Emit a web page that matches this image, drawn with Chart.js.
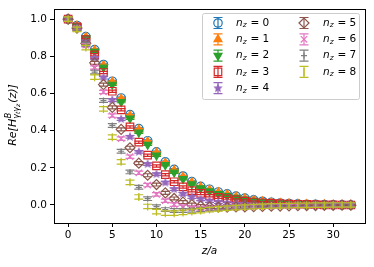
<!DOCTYPE html>
<html>
<head>
<meta charset="utf-8">
<script src="https://cdn.jsdelivr.net/npm/chart.js@4.4.1/dist/chart.umd.min.js"></script>
<style>
  html, body { margin: 0; padding: 0; background: #fff; }
  #wrap { width: 374px; height: 267px; }
</style>
</head>
<body>
<div id="wrap"><canvas id="chart" width="374" height="267"></canvas></div>
<script>
// ---- data ----
const zValues = [0, 1, 2, 3, 4, 5, 6, 7, 8, 9, 10, 11, 12, 13, 14, 15, 16, 17, 18, 19, 20, 21, 22, 23, 24, 25, 26, 27, 28, 29, 30, 31, 32];

const nz0 = [1.0, 0.966, 0.906, 0.836, 0.756, 0.666, 0.576, 0.486, 0.411, 0.346, 0.286, 0.232, 0.192, 0.156, 0.126, 0.100, 0.085, 0.070, 0.060, 0.048, 0.037, 0.028, 0.020, 0.015, 0.011, 0.008, 0.006, 0.004, 0.003, 0.002, 0.001, 0.001, 0.0];
const nz1 = [1.0, 0.964, 0.904, 0.833, 0.752, 0.662, 0.571, 0.481, 0.406, 0.341, 0.281, 0.227, 0.187, 0.152, 0.122, 0.097, 0.082, 0.068, 0.057, 0.045, 0.035, 0.026, 0.019, 0.014, 0.010, 0.008, 0.006, 0.004, 0.003, 0.002, 0.001, 0.001, 0.0];
const nz2 = [1.0, 0.962, 0.898, 0.825, 0.740, 0.648, 0.555, 0.466, 0.390, 0.325, 0.267, 0.215, 0.175, 0.140, 0.112, 0.090, 0.074, 0.060, 0.049, 0.039, 0.030, 0.023, 0.017, 0.013, 0.010, 0.007, 0.005, 0.004, 0.003, 0.002, 0.001, 0.001, 0.0];
const nz3 = [1.0, 0.958, 0.890, 0.808, 0.713, 0.612, 0.512, 0.420, 0.338, 0.268, 0.210, 0.163, 0.125, 0.097, 0.077, 0.062, 0.050, 0.041, 0.034, 0.027, 0.021, 0.016, 0.012, 0.009, 0.007, 0.005, 0.004, 0.003, 0.002, 0.001, 0.001, 0.0, 0.0];
const nz4 = [1.0, 0.955, 0.880, 0.790, 0.685, 0.565, 0.462, 0.367, 0.286, 0.220, 0.166, 0.120, 0.085, 0.060, 0.043, 0.030, 0.021, 0.015, 0.010, 0.006, 0.004, 0.002, 0.001, 0.0, 0.0, 0.0, 0.0, 0.0, 0.0, 0.0, 0.0, 0.0, 0.0];
const nz5 = [1.0, 0.952, 0.870, 0.765, 0.648, 0.525, 0.407, 0.308, 0.225, 0.160, 0.110, 0.065, 0.035, 0.015, 0.002, -0.006, -0.010, -0.012, -0.012, -0.011, -0.010, -0.009, -0.008, -0.007, -0.006, -0.005, -0.004, -0.003, -0.003, -0.002, -0.002, -0.001, -0.001];
const nz6 = [1.0, 0.950, 0.860, 0.740, 0.608, 0.481, 0.357, 0.260, 0.173, 0.107, 0.057, 0.023, 0.002, -0.010, -0.016, -0.018, -0.018, -0.017, -0.015, -0.013, -0.011, -0.009, -0.007, -0.006, -0.005, -0.004, -0.003, -0.002, -0.002, -0.001, -0.001, 0.0, 0.0];
const nz7 = [1.0, 0.948, 0.865, 0.715, 0.562, 0.428, 0.289, 0.178, 0.095, 0.034, -0.009, -0.025, -0.030, -0.030, -0.028, -0.025, -0.021, -0.018, -0.015, -0.012, -0.010, -0.008, -0.006, -0.005, -0.004, -0.003, -0.002, -0.002, -0.001, -0.001, 0.0, 0.0, 0.0];
const nz8 = [1.0, 0.945, 0.847, 0.688, 0.517, 0.365, 0.232, 0.122, 0.043, -0.008, -0.036, -0.044, -0.044, -0.040, -0.035, -0.030, -0.025, -0.021, -0.017, -0.014, -0.011, -0.009, -0.007, -0.005, -0.004, -0.003, -0.002, -0.002, -0.001, -0.001, 0.0, 0.0, 0.0];

// rough size of each series' error bar
const errSizes = [0.004, 0.005, 0.005, 0.006, 0.007, 0.008, 0.009, 0.010, 0.012];

const xTicks = [0, 5, 10, 15, 20, 25, 30];
const yTicks = [0.0, 0.2, 0.4, 0.6, 0.8, 1.0];

// ---- styling ----
const allSeries = [nz0, nz1, nz2, nz3, nz4, nz5, nz6, nz7, nz8];
const colors = ['#1f77b4', '#ff7f0e', '#2ca02c', '#d62728', '#9467bd', '#8c564b', '#e377c2', '#7f7f7f', '#bcbd22'];
const FONT = '"DejaVu Sans", sans-serif';
const CAP = 4.5;

function starCanvas(color, r) {
    const c = document.createElement('canvas');
    const s = Math.ceil(r * 2) + 2;
    c.width = c.height = s;
    const g = c.getContext('2d');
    g.fillStyle = color;
    g.beginPath();
    for (let i = 0; i < 10; i++) {
        const rr = i % 2 ? r * 0.45 : r;
        const a = -Math.PI / 2 + i * Math.PI / 5;
        g.lineTo(s / 2 + rr * Math.cos(a), s / 2 + rr * Math.sin(a));
    }
    g.closePath();
    g.fill();
    return c;
}

// marker per series: style, rotation, radius, filled
const markers = [
    { style: 'circle', rot: 0, r: 4.2, fill: false },
    { style: 'triangle', rot: 0, r: 4.6, fill: true },
    { style: 'triangle', rot: 180, r: 4.6, fill: true },
    { style: 'rect', rot: 0, r: 5.3, fill: false },
    { style: starCanvas(colors[4], 5), rot: 0, r: 4.5, fill: true },
    { style: 'rectRot', rot: 0, r: 5, fill: false },
    { style: 'crossRot', rot: 0, r: 4.5, fill: false },
    { style: 'cross', rot: 0, r: 3, fill: false },
    { style: 'line', rot: 90, r: 4, fill: false }
];

const datasets = allSeries.map((vals, i) => ({
    label: 'n_z = ' + i,
    data: vals.map((v, k) => ({ x: zValues[k], y: v })),
    err: errSizes[i],
    showLine: false,
    borderColor: colors[i],
    backgroundColor: markers[i].fill ? colors[i] : 'rgba(0,0,0,0)',
    pointStyle: markers[i].style,
    pointRotation: markers[i].rot,
    pointRadius: markers[i].r,
    pointBorderWidth: 1.2,
    order: 9 - i
}));

// vertical error bars with caps, drawn under each series' markers
const errorBars = {
    id: 'errorBars',
    beforeDatasetDraw(chart, args) {
        const ds = chart.data.datasets[args.index];
        const ys = chart.scales.y;
        const ctx = chart.ctx;
        ctx.save();
        ctx.strokeStyle = ds.borderColor;
        ctx.lineWidth = 1.2;
        args.meta.data.forEach((pt, k) => {
            const v = ds.data[k].y;
            const y1 = ys.getPixelForValue(v - ds.err);
            const y2 = ys.getPixelForValue(v + ds.err);
            ctx.beginPath();
            ctx.moveTo(pt.x, y1); ctx.lineTo(pt.x, y2);
            ctx.moveTo(pt.x - CAP, y1); ctx.lineTo(pt.x + CAP, y1);
            ctx.moveTo(pt.x - CAP, y2); ctx.lineTo(pt.x + CAP, y2);
            ctx.stroke();
        });
        ctx.restore();
    }
};

function drawNz(ctx, x, y, n) {
    ctx.fillStyle = '#000';
    ctx.textBaseline = 'middle';
    ctx.textAlign = 'left';
    ctx.font = 'italic 10.5px ' + FONT;
    ctx.fillText('n', x, y);
    let w = ctx.measureText('n').width;
    ctx.font = 'italic 7.5px ' + FONT;
    ctx.fillText('z', x + w, y + 2.5);
    w += ctx.measureText('z').width + 0.5;
    ctx.font = '10.5px ' + FONT;
    ctx.fillText(' = ' + n, x + w, y);
}

// spines, axis titles and the two-column legend
const decorations = {
    id: 'decorations',
    afterDatasetsDraw(chart) {
        const ctx = chart.ctx;
        const a = chart.chartArea;
        ctx.save();
        ctx.strokeStyle = '#000';
        ctx.lineWidth = 1;
        ctx.strokeRect(Math.round(a.left) + 0.5, Math.round(a.top) + 0.5,
            Math.round(a.right - a.left), Math.round(a.bottom - a.top));
        ctx.restore();
    },
    afterDraw(chart) {
        const ctx = chart.ctx;
        const a = chart.chartArea;
        ctx.save();

        // x title
        ctx.fillStyle = '#000';
        ctx.font = 'italic 10.5px ' + FONT;
        ctx.textAlign = 'center';
        ctx.textBaseline = 'middle';
        ctx.fillText('z/a', (a.left + a.right) / 2, 251);

        // y title: Re[H^B_{γtγz}(z)]
        ctx.save();
        ctx.translate(13, 115);
        ctx.rotate(-Math.PI / 2);
        ctx.textAlign = 'left';
        ctx.font = 'italic 11px ' + FONT;
        const w1 = ctx.measureText('Re[H').width;
        ctx.font = 'italic 8px ' + FONT;
        const wg = ctx.measureText('γ').width;
        ctx.font = 'italic 6px ' + FONT;
        const wt = ctx.measureText('t').width, wz = ctx.measureText('z').width;
        ctx.font = 'italic 11px ' + FONT;
        const w2 = ctx.measureText('(z)]').width;
        const subW = 2 * wg + wt + wz + 1;
        const total = w1 + subW + w2;
        let x = -total / 2;
        ctx.fillText('Re[H', x, 0);
        x += w1;
        ctx.font = 'italic 8px ' + FONT;
        ctx.fillText('B', x + 0.5, -4.5);
        ctx.fillText('γ', x, 3.5);
        ctx.font = 'italic 6px ' + FONT;
        ctx.fillText('t', x + wg, 5.5);
        ctx.font = 'italic 8px ' + FONT;
        ctx.fillText('γ', x + wg + wt, 3.5);
        ctx.font = 'italic 6px ' + FONT;
        ctx.fillText('z', x + 2 * wg + wt, 5.5);
        x += subW;
        ctx.font = 'italic 11px ' + FONT;
        ctx.fillText('(z)]', x, 0);
        ctx.restore();

        // legend box
        const bx = 202.5, by = 13.5, bw = 157, bh = 86;
        ctx.beginPath();
        if (ctx.roundRect) ctx.roundRect(bx, by, bw, bh, 2); else ctx.rect(bx, by, bw, bh);
        ctx.fillStyle = 'rgba(255,255,255,0.8)';
        ctx.fill();
        ctx.strokeStyle = '#cccccc';
        ctx.lineWidth = 1;
        ctx.stroke();

        chart.data.datasets.forEach((ds, i) => {
            const col = i < 5 ? 0 : 1;
            const row = i < 5 ? i : i - 5;
            const mx = col === 0 ? 218 : 304;
            const tx = col === 0 ? 236 : 323;
            const my = 23 + row * 16.3;
            // error bar
            ctx.strokeStyle = colors[i];
            ctx.lineWidth = 1.2;
            ctx.beginPath();
            ctx.moveTo(mx, my - 5.5); ctx.lineTo(mx, my + 5.5);
            ctx.moveTo(mx - CAP, my - 5.5); ctx.lineTo(mx + CAP, my - 5.5);
            ctx.moveTo(mx - CAP, my + 5.5); ctx.lineTo(mx + CAP, my + 5.5);
            ctx.stroke();
            // marker
            ctx.fillStyle = markers[i].fill ? colors[i] : 'rgba(0,0,0,0)';
            ctx.strokeStyle = colors[i];
            Chart.helpers.drawPoint(ctx, {
                pointStyle: markers[i].style,
                rotation: markers[i].rot,
                radius: markers[i].r,
                borderWidth: 1.2
            }, mx, my);
            drawNz(ctx, tx, my, i);
        });
        ctx.restore();
    }
};

new Chart(document.getElementById('chart'), {
    type: 'scatter',
    data: { datasets: datasets },
    options: {
        responsive: false,
        animation: false,
        events: [],
        layout: { padding: { top: 8, right: 9, left: 0, bottom: 0 } },
        plugins: {
            legend: { display: false },
            tooltip: { enabled: false }
        },
        scales: {
            x: {
                type: 'linear',
                min: -1.6,
                max: 33.6,
                afterFit: s => { s.height = 44; },
                afterBuildTicks: s => { s.ticks = xTicks.map(v => ({ value: v })); },
                grid: { drawOnChartArea: false, drawTicks: true, tickLength: 4, color: '#000' },
                border: { display: true, color: '#000' },
                ticks: { color: '#000', padding: 2, font: { family: FONT, size: 10.5 }, maxRotation: 0 }
            },
            y: {
                min: -0.097,
                max: 1.053,
                afterFit: s => { s.width = 54; },
                afterBuildTicks: s => { s.ticks = yTicks.map(v => ({ value: v })); },
                grid: { drawOnChartArea: false, drawTicks: true, tickLength: 4, color: '#000' },
                border: { display: true, color: '#000' },
                ticks: {
                    color: '#000', padding: 3, font: { family: FONT, size: 10.5 },
                    callback: v => v.toFixed(1)
                }
            }
        }
    },
    plugins: [errorBars, decorations]
});
</script>
</body>
</html>
